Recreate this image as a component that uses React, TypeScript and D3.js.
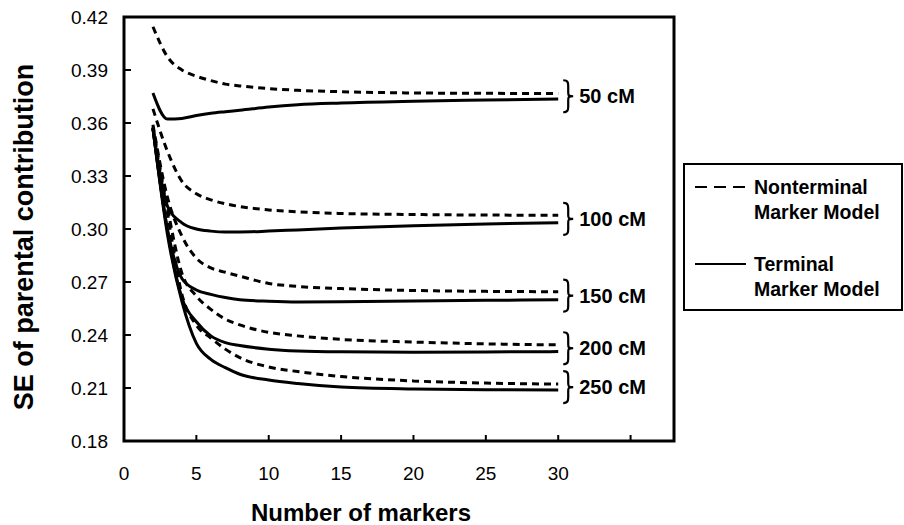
import React, { useRef, useEffect } from 'react';
import * as d3 from 'd3';

// number of markers at which the SE curves were read
const markers = [2, 3, 4, 5, 6, 7, 8, 10, 12, 15, 20, 25, 30];

// Nonterminal marker model (dashed)
const n50 = [0.4145, 0.3975, 0.39, 0.3865, 0.384, 0.382, 0.381, 0.3795, 0.3785, 0.3777, 0.377, 0.3768, 0.3767];
const n100 = [0.368, 0.344, 0.327, 0.32, 0.3165, 0.3143, 0.3127, 0.3108, 0.3097, 0.3088, 0.3082, 0.3079, 0.3078];
const n150 = [0.359, 0.318, 0.296, 0.2835, 0.278, 0.2755, 0.2733, 0.2692, 0.2675, 0.2663, 0.2652, 0.2647, 0.2645];
const n200 = [0.358, 0.312, 0.275, 0.262, 0.2545, 0.249, 0.2457, 0.2415, 0.2395, 0.2375, 0.236, 0.235, 0.2344];
const n250 = [0.357, 0.309, 0.263, 0.2455, 0.2383, 0.232, 0.2272, 0.2219, 0.2193, 0.2165, 0.214, 0.2128, 0.2122];

// Terminal marker model (solid)
const t50 = [0.377, 0.3622, 0.3626, 0.3642, 0.3655, 0.3664, 0.3672, 0.369, 0.3703, 0.3713, 0.3723, 0.373, 0.3736];
const t100 = [0.357, 0.313, 0.3035, 0.3, 0.2988, 0.2983, 0.2983, 0.2988, 0.2995, 0.3005, 0.3018, 0.3028, 0.3036];
const t150 = [0.357, 0.3, 0.272, 0.2655, 0.263, 0.2612, 0.26, 0.2591, 0.2587, 0.2588, 0.2592, 0.2596, 0.26];
const t200 = [0.357, 0.299, 0.261, 0.2475, 0.2395, 0.2357, 0.234, 0.232, 0.231, 0.2305, 0.2303, 0.2304, 0.2306];
const t250 = [0.357, 0.297, 0.259, 0.2353, 0.2262, 0.2215, 0.2178, 0.2145, 0.2125, 0.2105, 0.2094, 0.209, 0.2089];

const mapLengths = ['50 cM', '100 cM', '150 cM', '200 cM', '250 cM'];
const nonterminal = [n50, n100, n150, n200, n250];
const terminal = [t50, t100, t150, t200, t250];

const xTicks = [0, 5, 10, 15, 20, 25, 30, 35];
const xTickLabels = ['0', '5', '10', '15', '20', '25', '30', ''];
const yTicks = [0.18, 0.21, 0.24, 0.27, 0.3, 0.33, 0.36, 0.39, 0.42];

const legendItems = [
  { lines: ['Nonterminal', 'Marker Model'], dash: '12,7' },
  { lines: ['Terminal', 'Marker Model'], dash: null },
];

const FONT = '"Liberation Sans", Arial, Helvetica, sans-serif';

const App = () => {
  const svgRef = useRef<SVGSVGElement>(null);

  useEffect(() => {
    const svg = d3.select(svgRef.current);
    svg.selectAll('*').remove();

    const left = 124, right = 674, top = 17, bottom = 441;

    const x = d3.scaleLinear().domain([0, 38]).range([left, right]);
    const y = d3.scaleLinear().domain([0.18, 0.42]).range([bottom, top]);

    const line = d3.line<number>()
      .x((_, i) => x(markers[i]))
      .y(d => y(d))
      .curve(d3.curveMonotoneX);

    // curves
    const g = svg.append('g');
    terminal.forEach(vals => {
      g.append('path')
        .attr('d', line(vals))
        .attr('fill', 'none')
        .attr('stroke', '#000')
        .attr('stroke-width', 3);
    });
    nonterminal.forEach(vals => {
      g.append('path')
        .attr('d', line(vals))
        .attr('fill', 'none')
        .attr('stroke', '#000')
        .attr('stroke-width', 3)
        .attr('stroke-dasharray', '7,5');
    });

    // plot frame
    svg.append('rect')
      .attr('x', left).attr('y', top)
      .attr('width', right - left).attr('height', bottom - top)
      .attr('fill', 'none').attr('stroke', '#000').attr('stroke-width', 3);

    // x ticks (inward) + labels
    xTicks.forEach((t, i) => {
      if (t > 0) {
        svg.append('line')
          .attr('x1', x(t)).attr('x2', x(t))
          .attr('y1', bottom).attr('y2', bottom - 6)
          .attr('stroke', '#000').attr('stroke-width', 2);
      }
      svg.append('text')
        .attr('x', x(t)).attr('y', 480)
        .attr('text-anchor', 'middle')
        .style('font-family', FONT).style('font-size', '19px')
        .text(xTickLabels[i]);
    });

    // y ticks (inward) + labels
    yTicks.forEach(t => {
      if (t > 0.18 && t < 0.42) {
        svg.append('line')
          .attr('x1', left).attr('x2', left + 7)
          .attr('y1', y(t)).attr('y2', y(t))
          .attr('stroke', '#000').attr('stroke-width', 2);
      }
      svg.append('text')
        .attr('x', 108).attr('y', y(t) + 7)
        .attr('text-anchor', 'end')
        .style('font-family', FONT).style('font-size', '19px')
        .text(d3.format('.2f')(t));
    });

    // axis titles
    svg.append('text')
      .attr('x', 361).attr('y', 521)
      .attr('text-anchor', 'middle')
      .style('font-family', FONT).style('font-size', '24px').style('font-weight', 'bold')
      .text('Number of markers');

    svg.append('text')
      .attr('transform', `translate(33,${(top + bottom) / 2 + 8}) rotate(-90)`)
      .attr('text-anchor', 'middle')
      .style('font-family', FONT).style('font-size', '27px').style('font-weight', 'bold')
      .text('SE of parental contribution');

    // braces + map length labels
    const last = markers.length - 1;
    mapLengths.forEach((label, i) => {
      const cy = (y(nonterminal[i][last]) + y(terminal[i][last])) / 2;
      const x0 = x(30) + 5;
      const h = 16;
      const w = 10;
      const p = `M${x0},${cy - h} C${x0 + w / 2},${cy - h} ${x0 + w / 2},${cy - h + 3} ${x0 + w / 2},${cy - h + 6}`
        + ` L${x0 + w / 2},${cy - 4} C${x0 + w / 2},${cy - 1} ${x0 + w / 2},${cy} ${x0 + w},${cy}`
        + ` C${x0 + w / 2},${cy} ${x0 + w / 2},${cy + 1} ${x0 + w / 2},${cy + 4}`
        + ` L${x0 + w / 2},${cy + h - 6} C${x0 + w / 2},${cy + h - 3} ${x0 + w / 2},${cy + h} ${x0},${cy + h}`;
      svg.append('path')
        .attr('d', p)
        .attr('fill', 'none').attr('stroke', '#000').attr('stroke-width', 2.2);
      svg.append('text')
        .attr('x', x0 + w + 6).attr('y', cy + 7)
        .style('font-family', FONT).style('font-size', '20px').style('font-weight', 'bold')
        .text(label);
    });

    // legend
    const lg = svg.append('g');
    lg.append('rect')
      .attr('x', 684).attr('y', 164).attr('width', 218).attr('height', 146)
      .attr('fill', '#fff').attr('stroke', '#000').attr('stroke-width', 2);
    legendItems.forEach((item, i) => {
      const ly = 187 + i * 77;
      lg.append('line')
        .attr('x1', 695).attr('x2', 746)
        .attr('y1', ly).attr('y2', ly)
        .attr('stroke', '#000').attr('stroke-width', 2)
        .attr('stroke-dasharray', item.dash);
      item.lines.forEach((txt, j) => {
        lg.append('text')
          .attr('x', 754).attr('y', ly + 7 + j * 25)
          .style('font-family', FONT).style('font-size', '19.5px').style('font-weight', 'bold')
          .text(txt);
      });
    });
  }, []);

  return (
    <svg
      ref={svgRef}
      width={904}
      height={525}
      style={{ position: 'absolute', left: 0, top: 0, background: '#fff' }}
    />
  );
};

export default App;
